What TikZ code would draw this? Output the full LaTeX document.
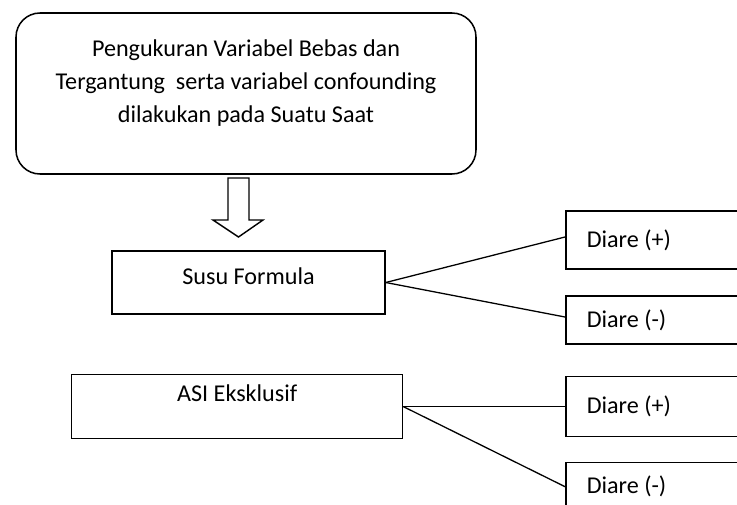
\documentclass[tikz,border=0pt]{standalone}
\usepackage{fontspec}
\setmainfont{Carlito}
\usepackage{tikz}

\begin{document}
\begin{tikzpicture}[
    kotak/.style={draw, line width=1.3pt, inner sep=0pt},
    diare/.style={kotak, anchor=west, text width=5cm, align=flush left, inner xsep=0.63cm, minimum height=#1},
    garis/.style={line width=1.1pt},
    font=\fontsize{20.6}{28.5}\selectfont]
      \useasboundingbox (0,0) rectangle (22.11,-15.12);
      \clip (0,0) rectangle (22.11,-15.12);
      \node[kotak, rounded corners=0.72cm, minimum width=13.8cm, minimum height=4.83cm] (A) at (7.38,-2.805) {};
      \node[align=center] (At) at (7.38,-2.49) {Pengukuran Variabel Bebas dan\\ Tergantung~ serta variabel confounding\\ dilakukan pada Suatu Saat};
      \node[kotak, minimum width=8.19cm, minimum height=1.89cm, text depth=0.36cm] (B) at (7.455,-8.475) {Susu Formula};
      \node[diare=1.74cm] (C) at (16.95,-7.2) {Diare (+)};
      \node[diare=1.44cm] (D) at (16.95,-9.6) {Diare (-)};
      \node[kotak, minimum width=9.93cm, minimum height=1.92cm, text depth=0.84cm] (E) at (7.116,-12.2) {ASI Eksklusif};
      \node[diare=1.8cm] (F) at (16.95,-12.2) {Diare (+)};
      \node[diare=1.44cm] (G) at (16.95,-14.6) {Diare (-)};
        % panah blok ke bawah
      \draw[line width=1.2pt, line join=miter] (6.84,-5.34) -- (7.47,-5.34) -- (7.47,-6.6) -- (7.89,-6.6)
        -- (7.155,-7.11) -- (6.39,-6.6) -- (6.84,-6.6) -- cycle;
      \draw[garis] (B.east) -- ([yshift=0.09cm]C.west);
      \draw[garis] (B.east) -- ([yshift=0.09cm]D.west);
      \draw[garis] (E.east) -- (F.west);
      \draw[garis] (E.east) -- (G.west);
\end{tikzpicture}
\end{document}
